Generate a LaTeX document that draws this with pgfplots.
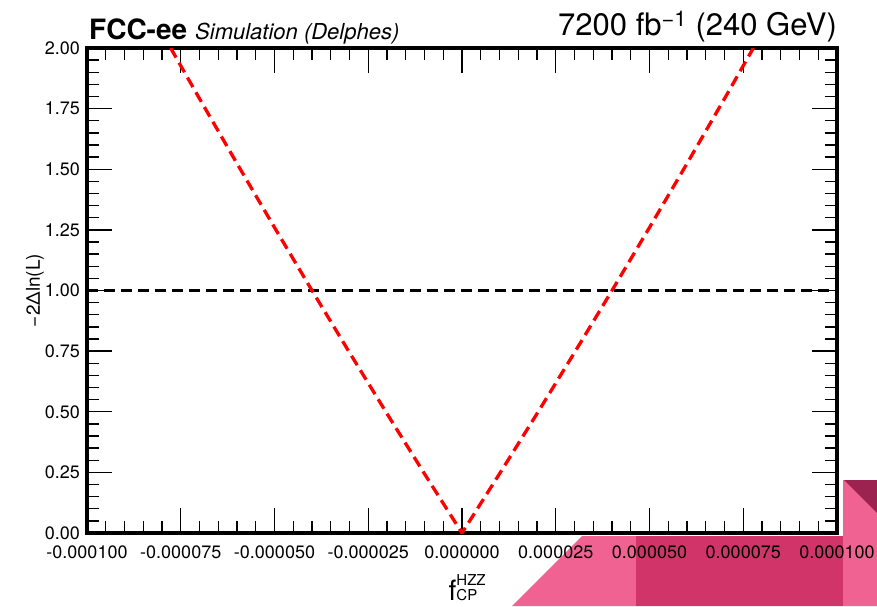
\documentclass[border=0pt]{standalone}
\usepackage{fontspec}
\setmainfont{TeX Gyre Heros}
\usepackage{pgfplots}
\pgfplotsset{compat=1.18}
\definecolor{pinkA}{HTML}{F06292}
\definecolor{pinkB}{HTML}{D13468}
\definecolor{pinkC}{HTML}{9C2250}
\begin{document}
\begin{tikzpicture}[x=1pt,y=1pt]
\path[use as bounding box] (-87,-73) rectangle (790,533);
\fill[pinkA] (425,-73) -- (495,-3) -- (756,-3) -- (756,53) -- (790,53) -- (790,-73) -- cycle;
\fill[pinkB] (549,-73) rectangle (756,-3);
\fill[pinkC] (757,53) -- (790,53) -- (790,20) -- cycle;
\begin{axis}[
  name=ax,
  scale only axis, width=750pt, height=485pt,
  at={(0,0)}, anchor=south west,
  xmin=-0.0001, xmax=0.0001, ymin=0, ymax=2,
  xtick={-0.0001,-0.000075,-0.00005,-0.000025,0,0.000025,0.00005,0.000075,0.0001},
  xticklabels={-0.000100,-0.000075,-0.000050,-0.000025,0.000000,0.000025,0.000050,0.000075,0.000100},
  ytick={0,0.25,0.5,0.75,1,1.25,1.5,1.75,2},
  yticklabels={0.00,0.25,0.50,0.75,1.00,1.25,1.50,1.75,2.00},
  minor x tick num=4, minor y tick num=4,
  tick align=inside,
  major tick length=25pt, minor tick length=12pt,
  tick style={black, line width=1.4pt},
  axis line style={line width=4pt},
  ticklabel style={font=\fontsize{18}{20}\selectfont},
  xticklabel style={inner sep=0pt, yshift=-13pt},
  yticklabel style={inner sep=0pt, xshift=-7pt},
  scaled x ticks=false,
  clip=true,
]
\addplot[black, line width=3pt, dash pattern=on 11pt off 6pt] coordinates {(-0.0001,1) (0.0001,1)};
\addplot[red, line width=3.3pt, dash pattern=on 11pt off 6pt] coordinates {
(-0.0000777,2.0) (-0.00007,1.7912) (-0.00006,1.5236) (-0.00005,1.2599) (-0.00004,1.0)
(-0.00003,0.7441) (-0.00002,0.4921) (-0.00001,0.2441) (0,0)
(0.00001,0.2441) (0.00002,0.4921) (0.00003,0.7441) (0.00004,1.0)
(0.00005,1.2599) (0.00006,1.5236) (0.00007,1.7912) (0.0000777,2.0)};
\end{axis}
\node[anchor=base west, inner sep=0pt, font=\bfseries\fontsize{28}{30}\selectfont] at (2,493) {FCC-ee};
\node[anchor=base west, inner sep=0pt, font=\itshape\fontsize{22}{24}\selectfont] at (108,493) {Simulation (Delphes)};
\node[anchor=base east, inner sep=0pt, font=\fontsize{31}{33}\selectfont] at (750,497) {7200 fb\textsuperscript{−1} (240 GeV)};
\node[rotate=90, anchor=center, inner sep=0pt, font=\fontsize{19}{20}\selectfont] at (-52,242.5) {−2Δln(L)};
\node[anchor=base, inner sep=0pt] at (376,-67) {{\fontsize{28}{28}\selectfont f}\makebox[0pt][l]{\raisebox{15pt}{\fontsize{15}{15}\selectfont HZZ}}{\fontsize{15}{15}\selectfont CP}};
\end{tikzpicture}
\end{document}
